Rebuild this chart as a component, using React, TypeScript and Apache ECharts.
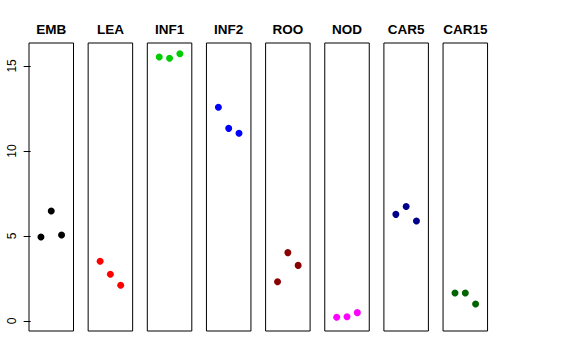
import React, { useEffect, useRef } from "react";
import * as echarts from "echarts";

const categories = ["EMB", "LEA", "INF1", "INF2", "ROO", "NOD", "CAR5", "CAR15"];
const colors = ["#000000", "#FF0000", "#00CD00", "#0000FF", "#8B0000", "#FF00FF", "#00008B", "#006400"];
const positions = [1, 2, 3];
const embValues = [4.94, 6.47, 5.06];
const leaValues = [3.51, 2.75, 2.1];
const inf1Values = [15.53, 15.45, 15.72];
const inf2Values = [12.57, 11.33, 11.04];
const rooValues = [2.31, 4.02, 3.27];
const nodValues = [0.22, 0.25, 0.49];
const car5Values = [6.27, 6.73, 5.88];
const car15Values = [1.65, 1.65, 1.0];
const yTicks = [0, 5, 10, 15];

const allValues = [embValues, leaValues, inf1Values, inf2Values, rooValues, nodValues, car5Values, car15Values];

export default function App() {
  const ref = useRef<HTMLDivElement>(null);
  useEffect(() => {
    document.body.style.margin = "0";
    if (!ref.current) return;
    const chart = echarts.init(ref.current, null, { renderer: "svg" });
    const panelLeft0 = 29;
    const panelStep = 59.15;
    const panelWidth = 44.5;
    const top = 43;
    const height = 288;
    const grids = categories.map((_, i) => ({
      left: panelLeft0 + i * panelStep,
      top,
      width: panelWidth,
      height,
      show: true,
      borderColor: "#000",
      borderWidth: 1,
      backgroundColor: "transparent",
      containLabel: false,
    }));
    const xAxes = categories.map((_, i) => ({
      type: "value",
      gridIndex: i,
      min: -0.16,
      max: 4.16,
      show: false,
    }));
    const yAxes = categories.map((_, i) => ({
      type: "value",
      gridIndex: i,
      min: -0.59,
      max: 16.35,
      show: i === 0,
      axisLine: { show: false },
      splitLine: { show: false },
      axisTick: {
        show: i === 0,
        length: 7,
        customValues: yTicks,
        lineStyle: { color: "#000", width: 1 },
      },
      axisLabel: {
        show: i === 0,
        customValues: yTicks,
        rotate: 90,
        margin: 11,
        color: "#000",
        fontSize: 12,
        fontFamily: "Liberation Sans",
      },
    }));
    const series = categories.map((name, i) => ({
      type: "scatter",
      name,
      xAxisIndex: i,
      yAxisIndex: i,
      symbolSize: 7,
      itemStyle: { color: colors[i], opacity: 1 },
      data: positions.map((p, j) => [p, allValues[i][j]]),
    }));
    const graphics = categories.map((name, i) => ({
      type: "text",
      x: panelLeft0 + i * panelStep + panelWidth / 2,
      y: 29,
      style: {
        text: name,
        textAlign: "center",
        textVerticalAlign: "middle",
        fontSize: 13.5,
        fontWeight: "bold",
        fontFamily: "Liberation Sans",
        fill: "#000",
      },
    }));
    chart.setOption({
      animation: false,
      backgroundColor: "#fff",
      grid: grids,
      xAxis: xAxes,
      yAxis: yAxes,
      series,
      graphic: graphics,
    });
    return () => chart.dispose();
  }, []);
  return <div ref={ref} style={{ width: 576, height: 360 }} />;
}
